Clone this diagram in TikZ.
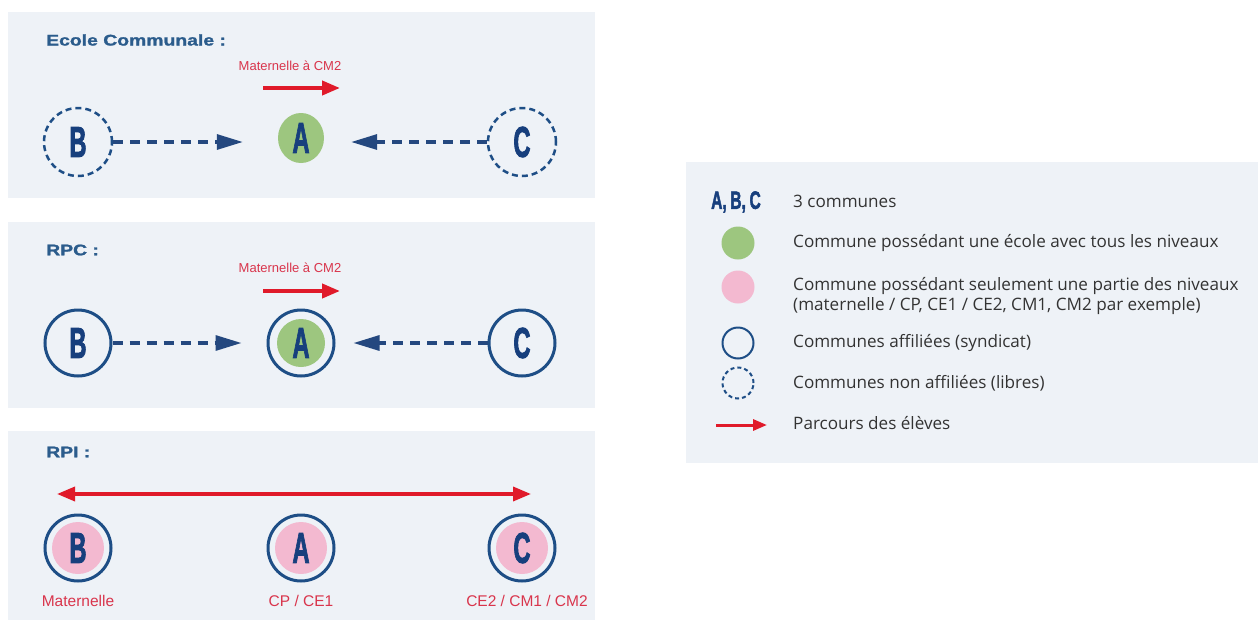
\documentclass[tikz,border=0pt]{standalone}
\usepackage{fontspec}
\setmainfont{Liberation Sans}
\newfontfamily\legfont{Open Sans}
\newfontfamily\heavy{Liberation Sans Bold}[FakeBold=2.5]
\newfontfamily\semiheavy{Liberation Sans Bold}[FakeBold=1.2]
\usetikzlibrary{arrows.meta,shapes.geometric}
\definecolor{panelbg}{HTML}{EEF2F7}
\definecolor{navy}{HTML}{173F7D}
\definecolor{ringblue}{HTML}{1E4E86}
\definecolor{arrowblue}{HTML}{24487F}
\definecolor{titleblue}{HTML}{2B5C8C}
\definecolor{redc}{HTML}{E01A2A}
\definecolor{labelred}{HTML}{D9354C}
\definecolor{greenc}{HTML}{9DC67F}
\definecolor{pinkc}{HTML}{F3B9D0}
\definecolor{legtext}{HTML}{333333}
\newcommand\ltr[1]{\scalebox{0.55}[1]{\heavy\fontsize{43}{43}\selectfont #1}}
\newcommand\ttl[1]{\scalebox{1.25}[1]{\semiheavy\fontsize{15.5}{16}\selectfont #1}}
\begin{document}
\begin{tikzpicture}[x=1pt,y=-1pt,
  panel/.style={fill=panelbg,draw=none},
  letter/.style={text=navy,inner sep=0},
  dashring/.style={circle,draw=ringblue,line width=2.5pt,dash pattern=on 6pt off 4pt,minimum size=68pt,inner sep=0,text=navy},
  ring/.style={circle,draw=ringblue,line width=3pt,minimum size=66pt,inner sep=0,text=navy},
  greendisk/.style={ellipse,fill=greenc,minimum width=46pt,minimum height=50pt,inner sep=0,text=navy},
  ringgreen/.style={ring,path picture={\fill[greenc] (path picture bounding box.center) circle (24pt);}},
  ringpink/.style={ring,path picture={\fill[pinkc] (path picture bounding box.center) circle (26pt);}},
  dasharrow/.style={draw=arrowblue,line width=3.2pt,dash pattern=on 10pt off 7pt,-{Triangle[length=26pt,width=15pt]}},
  redarrow/.style={draw=redc,line width=4pt,-{Triangle[length=18pt,width=14pt]}},
  reddouble/.style={draw=redc,line width=3.5pt,{Triangle[length=18pt,width=14pt]}-{Triangle[length=18pt,width=14pt]}},
  title/.style={text=titleblue,anchor=west,inner sep=0},
  redlabel/.style={text=labelred,inner sep=0,font=\fontsize{13}{14}\selectfont},
  bottomlabel/.style={text=labelred,inner sep=0,font=\fontsize{15.5}{16}\selectfont},
  legtxt/.style={text=legtext,anchor=west,inner sep=0,font=\legfont\fontsize{17.1}{20}\selectfont,align=left}
]
\path[use as bounding box,fill=white] (0,0) rectangle (1258,624);
% panels
\path[panel] (8,12) rectangle (595,198);
\path[panel] (8,222) rectangle (595,408);
\path[panel] (8,431) rectangle (595,620);
\path[panel] (686,162) rectangle (1258,463);

% ---------- Panel 1
\node[title] (t1) at (46,40) {\ttl{Ecole Communale :}};
\node[redlabel] (l1) at (290,66) {Maternelle à CM2};
\coordinate (r1s) at (263,88);
\coordinate (r1e) at (340,88);
\draw[redarrow] (r1s) -- (r1e);
\node[dashring] (B1) at (78,142) {\ltr{B}};
\node[greendisk] (A1) at (301,138) {\ltr{A}};
\node[dashring] (C1) at (522,142) {\ltr{C}};
\draw[dasharrow,shorten >=35pt] (B1.east) -- (A1.west |- B1.east);
\draw[dasharrow,shorten >=27pt] (C1.west) -- (A1.east |- C1.west);

% ---------- Panel 2
\node[title] (t2) at (46,250) {\ttl{RPC :}};
\node[redlabel] (l2) at (290,268) {Maternelle à CM2};
\coordinate (r2s) at (263,291);
\coordinate (r2e) at (340,291);
\draw[redarrow] (r2s) -- (r2e);
\node[ring] (B2) at (78,343) {\ltr{B}};
\node[ringgreen] (A2) at (301,343) {\ltr{A}};
\node[ring] (C2) at (522,343) {\ltr{C}};
\draw[dasharrow,shorten >=25pt] (B2.east) -- (A2.west);
\draw[dasharrow,shorten >=18pt] (C2.west) -- (A2.east);

% ---------- Panel 3
\node[title] (t3) at (46,452) {\ttl{RPI :}};
\node[ringpink] (B3) at (78,548) {\ltr{B}};
\node[ringpink] (A3) at (301,548) {\ltr{A}};
\node[ringpink] (C3) at (522,548) {\ltr{C}};
\coordinate (d3s) at (57,494);
\coordinate (d3e) at (531,494);
\draw[reddouble] (d3s) -- (d3e);
\node[bottomlabel] (m3) at (78,601) {Maternelle};
\node[bottomlabel] (c3a) at (301,601) {CP / CE1};
\node[bottomlabel] (c3c) at (527,601) {CE2 / CM1 / CM2};

% ---------- Legend
\node[letter,anchor=west] (labc) at (711,202) {\scalebox{0.62}[1]{\heavy\fontsize{25}{25}\selectfont A,\kern-1pt\ B,\kern-1pt\ C}};
\node[legtxt] (g1) at (793,201) {3 communes};
\node[circle,fill=greenc,minimum size=33pt,inner sep=0] (lg) at (738,243) {};
\node[legtxt] (g2) at (793,243) {Commune possédant une école avec tous les niveaux};
\node[circle,fill=pinkc,minimum size=33pt,inner sep=0] (lp) at (738,287) {};
\node[legtxt] (g3) at (793,296) {Commune possédant seulement une partie des niveaux\\(maternelle / CP, CE1 / CE2, CM1, CM2 par exemple)};
\node[circle,draw=ringblue,line width=2pt,minimum size=31pt,inner sep=0] (lr) at (738,343) {};
\node[legtxt] (g4) at (793,343) {Communes affiliées (syndicat)};
\node[circle,draw=ringblue,line width=2pt,dash pattern=on 4pt off 3pt,minimum size=31pt,inner sep=0] (ld) at (738,383) {};
\node[legtxt] (g5) at (793,383) {Communes non affiliées (libres)};
\coordinate (las) at (716,425);
\coordinate (lae) at (767,425);
\draw[draw=redc,line width=3pt,-{Triangle[length=14pt,width=11pt]}] (las) -- (lae);
\node[legtxt] (g6) at (793,423) {Parcours des élèves};
\end{tikzpicture}
\end{document}
